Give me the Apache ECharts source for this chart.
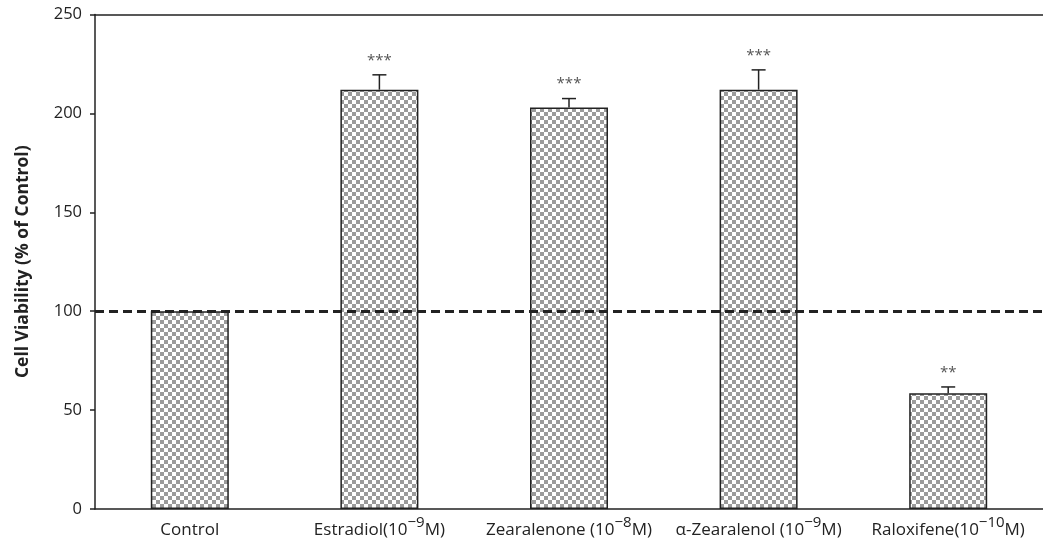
<!DOCTYPE html>
<html>
<head>
<meta charset="utf-8">
<script src="https://cdn.jsdelivr.net/npm/echarts@6/dist/echarts.min.js"></script>
<style>html,body{margin:0;padding:0;background:#fff}#c{width:1043px;height:543px}</style>
</head>
<body>
<div id="c"></div>
<script>
var categories = ['Control', 'Estradiol', 'Zearalenone', 'aZearalenol', 'Raloxifene'];
var categoryLabels = [
  '{a|Control}{s|\u200b}',
  '{a|Estradiol(10}{s|−9}{a|M)}',
  '{a|Zearalenone (10}{s|−8}{a|M)}',
  '{a|α-Zearalenol (10}{s|−9}{a|M)}',
  '{a|Raloxifene(10}{s|−10}{a|M)}'
];
var viability = [100, 212, 203, 212, 58.5];
var errorUpper = [100, 219.5, 207.5, 222, 61.7];
var significance = ['', '***', '***', '***', '**'];
var yTicks = [0, 50, 100, 150, 200, 250];
var referenceLine = 100;

var pc = document.createElement('canvas');
pc.width = 8; pc.height = 8;
var g = pc.getContext('2d');
g.fillStyle = '#ffffff'; g.fillRect(0, 0, 8, 8);
g.fillStyle = '#9b9b9b';
g.fillRect(0, 0, 4, 4); g.fillRect(4, 4, 4, 4);

var labelMap = {};
categories.forEach(function (c, i) { labelMap[c] = categoryLabels[i]; });

var errData = categories.map(function (c, i) { return [i, viability[i], errorUpper[i], significance[i]]; });

var chart = echarts.init(document.getElementById('c'));
chart.setOption({
  animation: false,
  textStyle: { fontFamily: 'Open Sans' },
  grid: { left: 95, right: -12, top: 14.5, bottom: 34 },
  xAxis: [{
    type: 'category', data: categories,
    axisLine: { lineStyle: { color: '#222', width: 1.5 } },
    axisTick: { show: false },
    axisLabel: {
      interval: 0,
      margin: 6,
      formatter: function (v) { return labelMap[v]; },
      rich: {
        a: { fontSize: 17, color: '#222', fontFamily: 'Open Sans', verticalAlign: 'bottom' },
        s: { fontSize: 15, color: '#222', fontFamily: 'Open Sans', verticalAlign: 'bottom', padding: [0, 0, 9, 0] }
      }
    }
  }, {
    type: 'category', data: categories, position: 'top',
    axisLine: { show: true, lineStyle: { color: '#222', width: 1.5 } },
    axisTick: { show: false }, axisLabel: { show: false }
  }],
  yAxis: {
    type: 'value', min: yTicks[0], max: yTicks[yTicks.length - 1], interval: 50,
    name: 'Cell Viability (% of Control)', nameLocation: 'middle', nameGap: 63,
    nameTextStyle: { fontSize: 17.5, fontWeight: 'bold', color: '#222', fontFamily: 'Open Sans' },
    axisLine: { show: true, lineStyle: { color: '#222', width: 1.5 } },
    axisTick: { show: true, length: 5, lineStyle: { color: '#222', width: 1.5 } },
    axisLabel: { margin: 13, fontSize: 16.5, color: '#222' },
    splitLine: { show: false }
  },
  series: [{
    type: 'bar', data: viability, barWidth: 78,
    itemStyle: { color: { image: pc, repeat: 'repeat' }, borderColor: '#222', borderWidth: 1.5 },
    markLine: {
      silent: true, symbol: 'none', label: { show: false },
      lineStyle: { color: '#222', type: [9, 5], width: 3 },
      data: [{ yAxis: referenceLine }]
    },
    z: 2
  }, {
    type: 'custom', data: errData, z: 3,
    renderItem: function (params, api) {
      var top = api.coord([api.value(0), api.value(2)]);
      var base = api.coord([api.value(0), api.value(1)]);
      var children = [];
      if (api.value(2) > api.value(1)) {
        children.push({ type: 'line', shape: { x1: top[0], y1: base[1], x2: top[0], y2: top[1] }, style: { stroke: '#222', lineWidth: 1.5 } });
        children.push({ type: 'line', shape: { x1: top[0] - 7, y1: top[1], x2: top[0] + 7, y2: top[1] }, style: { stroke: '#222', lineWidth: 1.5 } });
      }
      var sig = errData[params.dataIndex][3];
      if (sig) {
        children.push({ type: 'text', style: { text: sig, x: top[0], y: top[1] - 7, align: 'center', verticalAlign: 'bottom', fontSize: 15, fill: '#555', fontFamily: 'Open Sans' } });
      }
      return { type: 'group', children: children };
    }
  }]
});
</script>
</body>
</html>
